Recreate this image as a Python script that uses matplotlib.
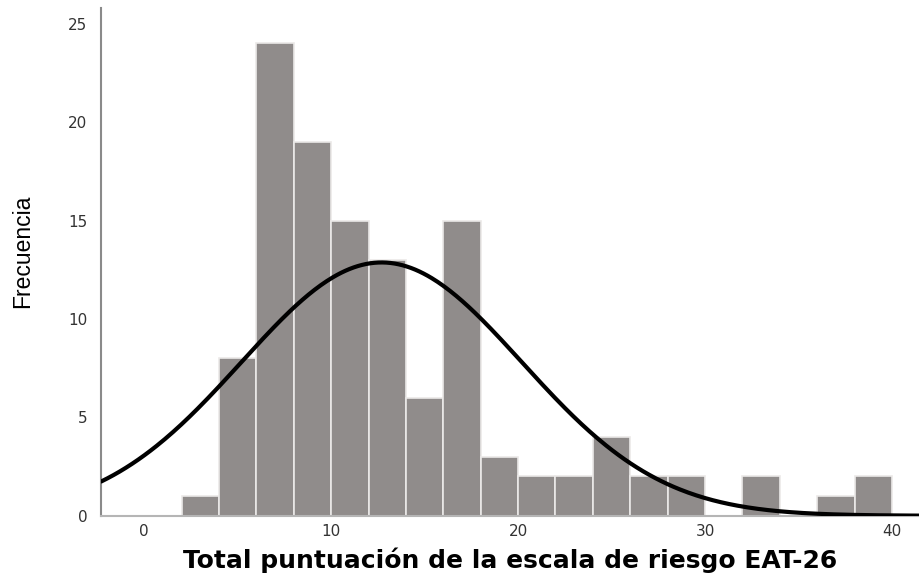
import matplotlib.pyplot as plt
import numpy as np

# histogram of EAT-26 total score, bins of width 2
bin_edges = [2, 4, 6, 8, 10, 12, 14, 16, 18, 20, 22, 24, 26, 28, 30, 32, 34, 36, 38, 40]
counts = [1, 8, 24, 19, 15, 13, 6, 15, 3, 2, 2, 4, 2, 2, 0, 2, 0, 1, 2]

# fitted normal curve parameters
mean_score = 12.7
sd_score = 7.5
n_total = sum(counts)
bin_width = 2

x_ticks = [0, 10, 20, 30, 40]
y_ticks = [0, 5, 10, 15, 20, 25]

fig = plt.figure(figsize=(9.2, 5.75), dpi=100)
ax = fig.add_axes([0.11, 0.103, 0.89, 0.883])

lefts = np.array(bin_edges[:-1])
ax.bar(lefts, counts, width=np.diff(bin_edges), align="edge",
       color="#908c8b", edgecolor="#ebe9e8", linewidth=1.2, zorder=2)

xs = np.linspace(-2.3, 41.5, 400)
ys = n_total * bin_width / (sd_score * np.sqrt(2 * np.pi)) * np.exp(-0.5 * ((xs - mean_score) / sd_score) ** 2)
ax.plot(xs, ys, color="black", lw=3, zorder=3, solid_capstyle="round")

ax.set_xlim(-2.3, 41.5)
ax.set_ylim(0, 25.8)
ax.set_xticks(x_ticks)
ax.set_yticks(y_ticks)
ax.tick_params(length=0, labelsize=11, labelcolor="#333333",
               labelfontfamily="DejaVu Sans")
ax.tick_params(axis="x", pad=6)
ax.tick_params(axis="y", pad=10)

for side in ["top", "right"]:
    ax.spines[side].set_visible(False)
ax.spines["left"].set_color("#8a8a8a")
ax.spines["left"].set_linewidth(1.5)
ax.spines["bottom"].set_color("#b5b5b5")
ax.spines["bottom"].set_linewidth(1.5)

ax.set_xlabel("Total puntuación de la escala de riesgo EAT-26",
              fontsize=18, fontweight="bold", family="DejaVu Sans", va="center")
ax.xaxis.set_label_coords(0.5, -0.087)
ax.set_ylabel("Frecuencia", fontsize=16.5, family="Liberation Sans",
              color="black", va="center")
ax.yaxis.set_label_coords(-0.096, 0.52)

fig.savefig("out.png", dpi=100)
